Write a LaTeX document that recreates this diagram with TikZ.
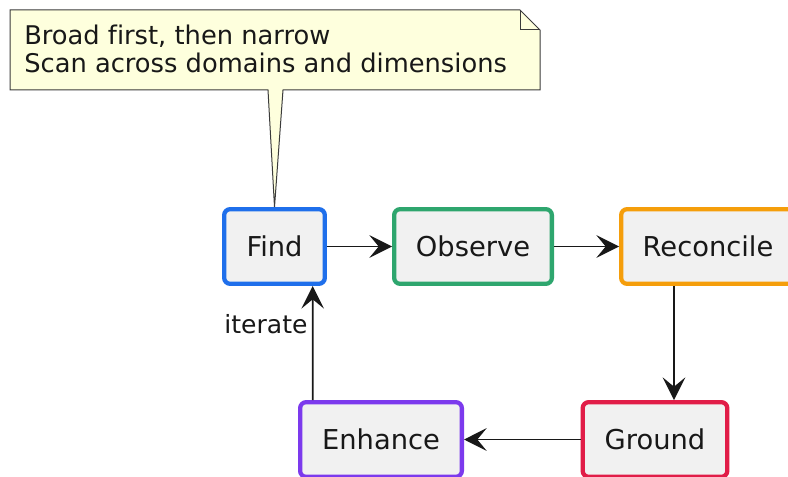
\documentclass[tikz,border=0pt]{standalone}
\usepackage{fontspec}
\setmainfont[Ligatures=NoCommon]{DejaVu Sans}
\usepackage{tikz}
\usetikzlibrary{positioning,calc,arrows.meta}
\definecolor{ink}{HTML}{181818}
\definecolor{boxgray}{HTML}{F1F1F1}
\definecolor{noteyellow}{HTML}{FEFFDD}
\definecolor{findblue}{HTML}{1F6FEB}
\definecolor{obsgreen}{HTML}{2EA66E}
\definecolor{recorange}{HTML}{F59E0B}
\definecolor{gndred}{HTML}{E11D48}
\definecolor{enhpurple}{HTML}{7C3AED}
\tikzset{
  basic/.style  = {draw, rectangle, rounded corners=4.5pt, line width=3.2pt,
                   fill=boxgray, text=ink, inner sep=0pt,
                   font=\fontsize{20.5}{24}\selectfont, minimum height=56pt},
  find/.style   = {basic, draw=findblue, minimum width=75.5pt},
  observe/.style = {basic, draw=obsgreen, minimum width=118.3pt},
  reconcile/.style = {basic, draw=recorange, minimum width=130.3pt},
  ground/.style = {basic, draw=gndred, minimum width=108.5pt},
  enhance/.style = {basic, draw=enhpurple, minimum width=121.3pt},
  post/.style   = {-{Stealth[length=17pt,width=17pt,inset=7pt]},
                   line width=1.2pt, draw=ink},
  notebox/.style = {draw=ink!85, line width=0.75pt, fill=noteyellow},
  notetext/.style = {align=left, inner sep=0pt, text=ink,
                   font=\fontsize{19.3}{21}\selectfont},
  lbl/.style    = {inner sep=0pt, text=ink, font=\fontsize{18.8}{22}\selectfont}
}
\begin{document}
\begin{tikzpicture}[x=0.75pt,y=-0.75pt]
  \useasboundingbox (0,0) rectangle (788,477);
  % stages
  \node[find]      (Find)      at (274.5,246.5) {Find};
  \node[observe]   (Observe)   at (473,246.5)   {Observe};
  \node[reconcile] (Reconcile) at (708,246.5)   {Reconcile};
  \node[ground]    (Ground)    at (655,439.5)   {Ground};
  \node[enhance]   (Enhance)   at (381,439.5)   {Enhance};
  % flow
  \draw[post] (Find) -- (Observe);
  \draw[post] (Observe) -- (Reconcile);
  \draw[post] ($(Reconcile.south)+(-34,0)$) -- ($(Ground.north)+(19,0)$);
  \draw[post] (Ground) -- (Enhance);
  \draw[post] ($(Enhance.north)+(-68.3,0)$) --
      node[lbl, pos=0.58, anchor=base east, xshift=-3.3pt] (iter) {iterate}
      ($(Find.south)+(38.2,0)$);
  % note
  \draw[notebox] (10,10) -- (520,10) -- (540,30) -- (540,90) -- (283,90)
      -- (Find.north) -- (268,90) -- (10,90) -- cycle;
  \draw[notebox, fill=none] (520,10) -- (520,30) -- (540,30);
  \node[notetext, anchor=base west] (note) at (24,72.3)
      {Broad first, then narrow\\Scan across domains and dimensions};
\end{tikzpicture}
\end{document}
